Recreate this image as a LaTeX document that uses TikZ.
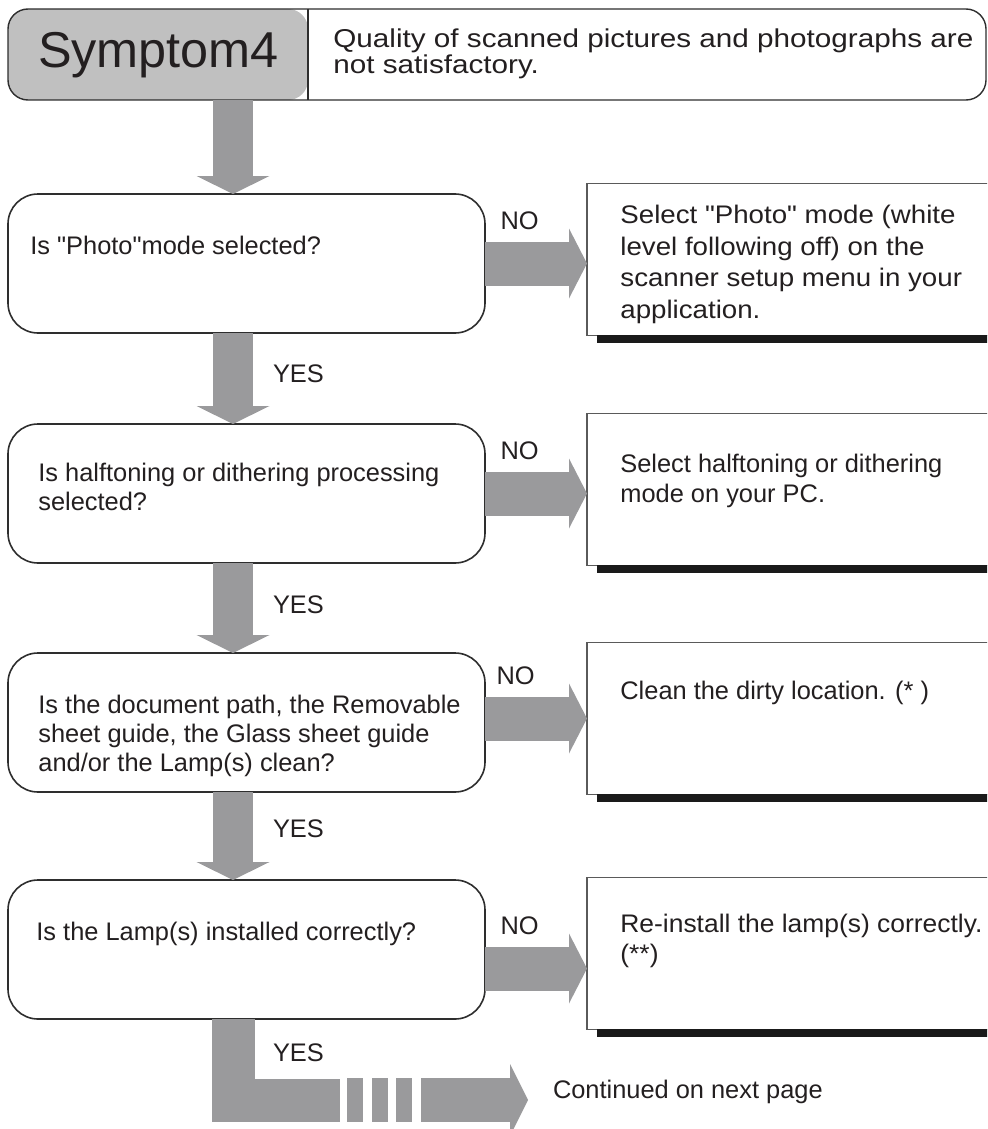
\documentclass[tikz,border=0pt]{standalone}
\usepackage{fontspec}
\newfontfamily\fcsans{Liberation Sans}
\newfontfamily\fcwide{Liberation Sans}[FakeStretch=1.15]
\newfontfamily\fcwider{Liberation Sans}[FakeStretch=1.09]
\newfontfamily\fcwidish{Liberation Sans}[FakeStretch=1.04]
\usetikzlibrary{positioning,arrows.meta,calc}
\definecolor{fcink}{HTML}{231F20}
\definecolor{fcline}{HTML}{2E2E2E}
\definecolor{fcbox}{HTML}{5A5A5A}
\definecolor{fcarrow}{HTML}{9A9A9C}
\definecolor{fchead}{HTML}{C0C0C0}
\definecolor{fcshade}{HTML}{1A1A1A}

\begin{document}
\begin{tikzpicture}[x=0.5pt,y=-0.5pt,
  font=\fcsans\fontsize{12.7}{14.5}\selectfont, text=fcink,
  hdr/.style={draw=fcline,line width=0.7pt,fill=white,rounded corners=10pt,
              minimum width=489pt,minimum height=45.5pt,inner sep=0pt,outer sep=0pt,
              path picture={\fill[fchead] (path picture bounding box.north west)
                rectangle ([xshift=150pt]path picture bounding box.south west);}},
  qbox/.style={draw=fcline,line width=0.8pt,fill=white,rounded corners=15pt,
               minimum width=238.5pt,minimum height=69.5pt,inner sep=0pt,outer sep=0pt},
  abox/.style={draw=fcbox,line width=0.6pt,fill=white,
               minimum width=206.5pt,minimum height=75.75pt,inner sep=0pt,outer sep=0pt},
  qtext/.style={anchor=north west,align=left,inner sep=0pt},
  atext/.style={qtext,font=\fcsans\fontsize{12.7}{15.2}\selectfont},
  yesarr/.style={draw=fcarrow,line width=20pt,-{Triangle[width=36.5pt,length=9pt,line width=0pt]}},
  noarr/.style={draw=fcarrow,line width=22pt,-{Triangle[width=35pt,length=9pt,line width=0pt]}},
  lbl/.style={inner sep=0pt,outer sep=0pt}]

  \clip (0,0) rectangle (987,1129);

  % header
  \node[hdr] (hdr) at (497,54.5) {};
  \draw[fcline,line width=0.7pt] ($(hdr.north west)+(300,0)$) -- ($(hdr.south west)+(300,0)$);
  \node[lbl,anchor=base,font=\fcsans\fontsize{25.2}{30}\selectfont] (sym) at ($(hdr.north west)+(150.5,59)$) {Symptom4};
  \node[qtext,font=\fcwide\fontsize{12.9}{13}\selectfont] (title) at ($(hdr.north west)+(325,19)$)
    {Quality of scanned pictures and photographs are\\not satisfactory.};

  % questions
  \node[qbox] (q1) at (246.5,263.5) {};
  \node[qbox,below=45.5pt of q1] (q2) {};
  \node[qbox,below=45pt of q2] (q3) {};
  \node[qbox,below=44pt of q3] (q4) {};

  \node[qtext] (t1) at ($(q1.north west)+(22,42)$) {Is "Photo"mode selected?};
  \node[qtext] (t2) at ($(q2.north west)+(30,39)$) {Is halftoning or dithering processing\\selected?};
  \node[qtext] (t3) at ($(q3.north west)+(30,42)$) {Is the document path, the Removable\\sheet guide, the Glass sheet guide\\and/or the Lamp(s) clean?};
  \node[qtext] (t4) at ($(q4.north west)+(28,42)$) {Is the Lamp(s) installed correctly?};

  % actions
  \node[abox,right=51pt of q1,yshift=2pt] (a1) {};
  \node[abox,right=51pt of q2,yshift=2pt] (a2) {};
  \node[abox,right=51pt of q3,yshift=2pt] (a3) {};
  \node[abox,right=51pt of q4,yshift=-2pt] (a4) {};
  \foreach \n in {a1,a2,a3,a4}
    \fill[fcshade] ($(\n.south west)+(10,0)$) rectangle ($(\n.south east)+(0,8)$);

  \node[atext,font=\fcwider\fontsize{12.7}{15.75}\selectfont] (s1) at ($(a1.north west)+(33,21)$) {Select "Photo" mode (white\\level following off) on the\\scanner setup menu in your\\application.};
  \node[atext] (s2) at ($(a2.north west)+(33,40)$) {Select halftoning or dithering\\mode on your PC.};
  \node[atext] (s3) at ($(a3.north west)+(33,38)$) {Clean the dirty location. (* )};
  \node[atext,font=\fcwidish\fontsize{12.7}{15.2}\selectfont] (s4) at ($(a4.north west)+(33,36)$) {Re-install the lamp(s) correctly.\\(**)};

  \coordinate (spine) at (233,0);
  \coordinate (bend) at (340,1100);
  \coordinate (resume) at (421,1100);

  % yes path
  \draw[yesarr] (hdr.south -| spine) -- (q1.north -| spine);
  \draw[yesarr] (q1.south -| spine) -- node[lbl,anchor=west,xshift=20pt,pos=0.45]{YES} (q2.north -| spine);
  \draw[yesarr] (q2.south -| spine) -- node[lbl,anchor=west,xshift=20pt,pos=0.46]{YES} (q3.north -| spine);
  \draw[yesarr] (q3.south -| spine) -- node[lbl,anchor=west,xshift=20pt,pos=0.42]{YES} (q4.north -| spine);

  % no path
  \draw[noarr] (q1.east) -- node[lbl,pos=0.34,yshift=21.5pt]{NO} (q1.east -| a1.west);
  \draw[noarr] (q2.east) -- node[lbl,pos=0.34,yshift=21.5pt]{NO} (q2.east -| a2.west);
  \draw[noarr] ($(q3.east)+(0,-4)$) -- node[lbl,pos=0.3,yshift=21.5pt]{NO} ($(q3.east -| a3.west)+(0,-4)$);
  \draw[noarr] ($(q4.east)+(0,19)$) -- node[lbl,pos=0.34,yshift=21.5pt]{NO} ($(q4.east -| a4.west)+(0,19)$);

  % continued
  \node[lbl,anchor=base west] (cont) at (553,1098) {Continued on next page};
  \draw[draw=fcarrow,line width=21.5pt,line join=miter] (q4.south -| spine) |- node[lbl,anchor=west,xshift=20pt,pos=0.21]{YES} (bend);
  \foreach \x in {347,372,396}
    \fill[fcarrow] (\x,1078) rectangle ++(16,44);
  \draw[noarr,-{Triangle[width=36pt,length=9pt,line width=0pt]},shorten >=12.5pt] (resume) -- (cont.west |- resume);
\end{tikzpicture}
\end{document}
